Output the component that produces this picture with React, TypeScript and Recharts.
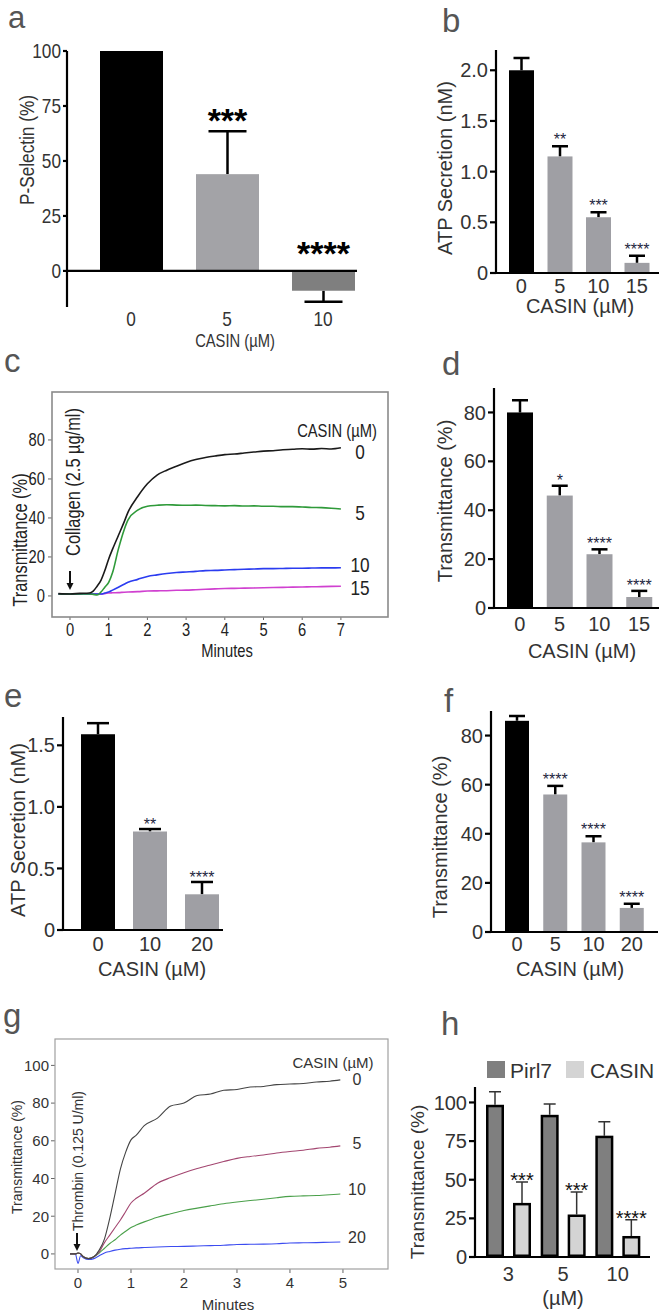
import React from 'react';
import { BarChart, Bar, LineChart, Line, XAxis, YAxis, ReferenceLine } from 'recharts';

const W = 662;
const H = 1316;
const SANS = "'Liberation Sans', Arial, sans-serif";
const NARROW_X = 0.82; // Arial Narrow look: Liberation Sans squeezed horizontally

// a: P-selectin exposure
const aDose = ['0', '5', '10'];
const aMean = [100, 44, -9];
const aErr = [0, 19.5, 5];
const aStars = ['', '***', '****'];

// b: ATP secretion, collagen
const bDose = ['0', '5', '10', '15'];
const bMean = [2.0, 1.15, 0.55, 0.1];
const bErr = [0.12, 0.1, 0.05, 0.07];
const bStars = ['', '**', '***', '****'];

// c: aggregation traces, collagen (minutes vs transmittance)
const cTime = [-0.3, 0, 0.25, 0.5, 0.6, 0.7, 0.8, 0.9, 1, 1.1, 1.25, 1.4, 1.5, 1.75, 2, 2.25, 2.5, 2.75, 3, 3.25, 3.5, 3.75, 4, 4.25, 4.5, 4.75, 5, 5.25, 5.5, 5.75, 6, 6.25, 6.5, 6.75, 7];
const c0 = [1.2, 1.0, 1.3, 1.5, 2.5, 5, 8, 13, 19, 24, 31, 38, 43, 51, 57.5, 62, 64.5, 66.5, 68.5, 70, 71, 71.8, 72.5, 72.8, 73.3, 73.8, 74.3, 74.5, 75, 75.2, 75.5, 75.3, 75.6, 75.4, 76];
const c5 = [1.0, 1.0, 1.0, 1.0, 0.8, 0.5, 2, 4.5, 7, 12, 24, 34, 39, 44, 46, 46.5, 46.8, 46.6, 46.5, 46.6, 46.4, 46.3, 46.2, 46.3, 46.1, 46.2, 46.0, 46.0, 45.8, 45.8, 45.6, 45.4, 45.3, 45.0, 44.6];
const c10 = [1.0, 1.0, 1.0, 1.0, 1.0, 1.0, 1.0, 1.5, 2, 3, 4.5, 6, 7, 8.5, 10, 10.8, 11.5, 12, 12.3, 12.6, 13, 13.1, 13.3, 13.5, 13.7, 13.8, 14, 14, 14.1, 14.2, 14.2, 14.3, 14.4, 14.4, 14.5];
const c15 = [1.0, 1.0, 1.0, 1.0, 1.0, 1.0, 1.0, 1.2, 1.5, 1.6, 1.7, 1.9, 2, 2.2, 2.5, 2.6, 2.7, 2.9, 3, 3.2, 3.4, 3.6, 3.8, 3.9, 4, 4.1, 4.2, 4.3, 4.4, 4.5, 4.6, 4.7, 4.8, 4.9, 5];
const cTicksX = [0, 1, 2, 3, 4, 5, 6, 7];
const cTicksY = [0, 20, 40, 60, 80];

// d: aggregation summary, collagen
const dDose = ['0', '5', '10', '15'];
const dMean = [80, 46, 22, 4.5];
const dErr = [5, 4, 2, 2.5];
const dStars = ['', '*', '****', '****'];

// e: ATP secretion, thrombin
const eDose = ['0', '10', '20'];
const eMean = [1.59, 0.8, 0.29];
const eErr = [0.09, 0.02, 0.1];
const eStars = ['', '**', '****'];

// f: aggregation summary, thrombin
const fDose = ['0', '5', '10', '20'];
const fMean = [86, 56, 36.5, 9.8];
const fErr = [2, 3.5, 2.5, 1.7];
const fStars = ['', '****', '****', '****'];

// g: aggregation traces, thrombin
const gTime = [-0.15, -0.05, 0, 0.05, 0.1, 0.2, 0.3, 0.4, 0.5, 0.6, 0.7, 0.8, 0.9, 1, 1.1, 1.25, 1.5, 1.75, 2, 2.25, 2.5, 2.75, 3, 3.25, 3.5, 3.75, 4, 4.25, 4.5, 4.75, 4.95];
const g0 = [0, 0, 0.5, 0, -1.5, -2.5, -1.5, 2, 8, 19, 32, 45, 54, 60.5, 63, 68, 72, 78.5, 80, 84, 84.8, 86.8, 87.2, 88.5, 88.8, 89.8, 90.1, 90.4, 91.2, 91.6, 92.3];
const g5 = [0, 0, 0.5, 0, -1.5, -2.5, -1.5, 1, 6, 10, 14, 18, 22.5, 27, 29.5, 32.2, 37.5, 40.5, 43.1, 45.3, 47.2, 49, 50.7, 51.7, 52.5, 53.5, 54.3, 55, 56, 56.6, 57.3];
const g10 = [0, 0, 0.5, 0, -1.5, -2.5, -1.5, 0.5, 3, 5.5, 7.5, 10, 12, 14, 15.3, 17, 19.5, 21.3, 23, 24.3, 25.5, 26.6, 27.5, 28.3, 29, 29.8, 30.5, 30.8, 31, 31.4, 31.8];
const g20 = [0, 0, -5, -1, -2, -3, -2.5, -1, 0.5, 1.3, 2, 2.5, 2.8, 3, 3.2, 3.4, 3.7, 3.9, 4, 4.2, 4.4, 4.6, 5, 5.1, 5.2, 5.4, 5.8, 5.9, 6, 6.2, 6.3];
const gTicksX = [0, 1, 2, 3, 4, 5];
const gTicksY = [0, 20, 40, 60, 80, 100];

// h: Pirl7 vs CASIN
const hDose = ['3', '5', '10'];
const hPirl7 = [98.5, 92, 78.5];
const hPirl7Err = [8.5, 7, 9];
const hCasin = [35, 27.5, 13.6];
const hCasinErr = [13.5, 14.5, 10.5];
const hStars = ['***', '***', '****'];

type Plot = { l: number; t: number; r: number; b: number };
type BarStyle = {
  fills: string[]; errColor: string; errWidth: number; cap: number;
  starSize: number; starGap: number; negGap?: number; starColor: string; starBold?: boolean;
  stroke?: string; strokeWidth?: number;
};

// bar + one-sided error bar + significance stars, all from the bar's own scale
function barShape(meanKey: string, errKey: string, starKey: string, st: BarStyle) {
  return (p: any) => {
    const { x, y, width, height, payload } = p;
    const v = payload[meanKey];
    const e = payload[errKey] || 0;
    const top = Math.min(y, y + height);
    const bot = Math.max(y, y + height);
    const ppu = v !== 0 ? Math.abs(height) / Math.abs(v) : 0;
    const cx = x + width / 2;
    const fill = st.fills[Math.min(payload.idx, st.fills.length - 1)];
    const inset = st.strokeWidth ? st.strokeWidth / 2 : 0;
    let err: [number, number] | null = null;
    let refY = top;
    if (e > 0) {
      if (v >= 0) {
        const ey = top - e * ppu;
        err = [top, ey];
        refY = ey;
      } else {
        err = [bot, bot + e * ppu];
      }
    }
    const gap = v < 0 && st.negGap ? st.negGap : st.starGap;
    const star = payload[starKey];
    return (
      <g>
        {err && <line x1={cx} x2={cx} y1={err[0]} y2={err[1]} stroke={st.errColor} strokeWidth={st.errWidth} />}
        {err && <line x1={cx - st.cap} x2={cx + st.cap} y1={err[1]} y2={err[1]} stroke={st.errColor} strokeWidth={st.errWidth} />}
        <rect x={x + inset} y={top + inset} width={width - 2 * inset} height={Math.max(0, bot - top - 2 * inset)}
          fill={fill} stroke={st.stroke} strokeWidth={st.strokeWidth} />
        {star && (
          <text x={cx} y={refY - gap + 0.568 * st.starSize} textAnchor="middle" fontSize={st.starSize}
            fontFamily={SANS} fontWeight={st.starBold ? 'bold' : 'normal'} fill={st.starColor}>{star}</text>
        )}
      </g>
    );
  };
}

// squeezed tick labels for the panels set in a narrow face
function narrowTick(size: number, fill: string, side: 'x' | 'y') {
  return (p: any) => (
    <text transform={`translate(${p.x} ${p.y}) scale(${NARROW_X} 1)`} textAnchor={side === 'x' ? 'middle' : 'end'}
      dy={side === 'x' ? '0.71em' : '0.355em'} fontSize={size} fontFamily={SANS} fill={fill}>
      {p.payload.value}
    </text>
  );
}

type SimpleProps = {
  cats: string[]; mean: number[]; err: number[]; stars: string[];
  plot: Plot; domain: [number, number]; ticks: number[]; fmt?: (v: number) => string;
  pad: { left: number; right: number }; barSize: number; style: BarStyle;
  narrow?: boolean; fontSize: number; yTick: number; yMargin: number; xMargin: number;
  xAxisLine: boolean; zeroLine?: boolean; lineW: number;
};

function SimpleBars(props: SimpleProps) {
  const data = props.cats.map((c, i) => ({ dose: c, idx: i, mean: props.mean[i], err: props.err[i], stars: props.stars[i] }));
  const { l, t, r, b } = props.plot;
  const tick = { fontSize: props.fontSize, fill: '#333', fontFamily: SANS };
  const line = { stroke: '#000', strokeWidth: props.lineW };
  return (
    <div style={{ position: 'absolute', left: 0, top: 0 }}>
      <BarChart width={W} height={H} data={data} margin={{ top: t, right: W - r, bottom: 0, left: 0 }}>
        <XAxis dataKey="dose" height={H - b} padding={props.pad}
          tick={props.narrow ? narrowTick(props.fontSize, '#333', 'x') : tick} tickLine={false} tickSize={0}
          tickMargin={props.xMargin} axisLine={props.xAxisLine ? line : false} interval={0} />
        <YAxis width={l} domain={props.domain} ticks={props.ticks} tickFormatter={props.fmt} allowDataOverflow
          tick={props.narrow ? narrowTick(props.fontSize, '#333', 'y') : tick} tickSize={props.yTick}
          tickMargin={props.yMargin} tickLine={line} axisLine={line} interval={0} />
        <Bar dataKey="mean" barSize={props.barSize} isAnimationActive={false}
          shape={barShape('mean', 'err', 'stars', props.style)} />
        {props.zeroLine && <ReferenceLine y={0} stroke="#000" strokeWidth={props.lineW} />}
      </BarChart>
    </div>
  );
}

const dec1 = (v: number) => (v === 0 ? '0' : v.toFixed(1));

const grayStyle = (cap: number, gap: number): BarStyle => ({
  fills: ['#000000', '#9f9fa4'], errColor: '#000', errWidth: 2.5, cap,
  starSize: 16, starGap: gap, starColor: '#1e2640',
});

function Txt(p: { x: number; y: number; s: string; size: number; narrow?: boolean; rot?: boolean; anchor?: string; fill?: string }) {
  const tf = `translate(${p.x} ${p.y})${p.rot ? ' rotate(-90)' : ''}${p.narrow ? ` scale(${NARROW_X} 1)` : ''}`;
  return (
    <text x={0} y={0} transform={tf} fontSize={p.size} fontFamily={SANS} fill={p.fill || '#333'}
      textAnchor={(p.anchor || 'middle') as any} dominantBaseline="central">{p.s}</text>
  );
}

function Letter(p: { x: number; y: number; s: string; size?: number }) {
  return <text x={p.x} y={p.y} fontSize={p.size || 33} fontFamily={SANS} fill="#555">{p.s}</text>;
}

function Arrow(p: { x: number; y1: number; y2: number }) {
  return (
    <g>
      <line x1={p.x} x2={p.x} y1={p.y1} y2={p.y2 - 5} stroke="#111" strokeWidth={2} />
      <polygon points={`${p.x - 3.5},${p.y2 - 7} ${p.x + 3.5},${p.y2 - 7} ${p.x},${p.y2}`} fill="#111" />
    </g>
  );
}

function PanelC() {
  const data = cTime.map((t, i) => ({ t, s0: c0[i], s5: c5[i], s10: c10[i], s15: c15[i] }));
  return (
    <div style={{ position: 'absolute', left: 0, top: 0 }}>
      <LineChart width={W} height={H} data={data} margin={{ top: 392, right: W - 388, bottom: 0, left: 0 }}>
        <XAxis type="number" dataKey="t" domain={[-0.465, 8.217]} allowDataOverflow ticks={cTicksX} interval={0}
          height={H - 617} tick={narrowTick(18, '#222', 'x')} tickSize={3} tickMargin={3} tickLine={{ stroke: '#666' }} axisLine={false} />
        <YAxis width={52} domain={[-10.8, 104.6]} allowDataOverflow ticks={cTicksY} interval={0}
          tick={narrowTick(18, '#222', 'y')} tickSize={4} tickMargin={3} tickLine={{ stroke: '#666' }} axisLine={false} />
        <Line type="monotone" dataKey="s15" stroke="#d040d0" strokeWidth={1.6} dot={false} isAnimationActive={false} />
        <Line type="monotone" dataKey="s10" stroke="#2b3cf0" strokeWidth={1.6} dot={false} isAnimationActive={false} />
        <Line type="monotone" dataKey="s5" stroke="#2f9a3a" strokeWidth={1.6} dot={false} isAnimationActive={false} />
        <Line type="monotone" dataKey="s0" stroke="#1a1a1a" strokeWidth={1.6} dot={false} isAnimationActive={false} />
      </LineChart>
    </div>
  );
}

function PanelG() {
  const data = gTime.map((t, i) => ({ t, s0: g0[i], s5: g5[i], s10: g10[i], s20: g20[i] }));
  const tick = { fontSize: 15, fill: '#333', fontFamily: SANS };
  return (
    <div style={{ position: 'absolute', left: 0, top: 0 }}>
      <LineChart width={W} height={H} data={data} margin={{ top: 1039, right: W - 388, bottom: 0, left: 0 }}>
        <XAxis type="number" dataKey="t" domain={[-0.434, 5.85]} allowDataOverflow ticks={gTicksX} interval={0}
          height={H - 1269} tick={tick} tickSize={4} tickMargin={4} tickLine={{ stroke: '#666' }} axisLine={false} />
        <YAxis width={55} domain={[-8, 114]} allowDataOverflow ticks={gTicksY} interval={0}
          tick={tick} tickSize={4} tickMargin={2} tickLine={{ stroke: '#666' }} axisLine={false} />
        <Line type="monotone" dataKey="s20" stroke="#3c4cf0" strokeWidth={1.1} dot={false} isAnimationActive={false} />
        <Line type="monotone" dataKey="s10" stroke="#4aa04a" strokeWidth={1.1} dot={false} isAnimationActive={false} />
        <Line type="monotone" dataKey="s5" stroke="#a34670" strokeWidth={1.1} dot={false} isAnimationActive={false} />
        <Line type="monotone" dataKey="s0" stroke="#444" strokeWidth={1.1} dot={false} isAnimationActive={false} />
      </LineChart>
    </div>
  );
}

function PanelH() {
  const data = hDose.map((c, i) => ({
    dose: c, idx: i, pirl7: hPirl7[i], pirl7Err: hPirl7Err[i], casin: hCasin[i], casinErr: hCasinErr[i], stars: hStars[i],
  }));
  const tick = { fontSize: 20, fill: '#333', fontFamily: SANS };
  const line = { stroke: '#000', strokeWidth: 2.2 };
  const base = { errColor: '#333', errWidth: 1.5, cap: 6, starSize: 20, starGap: 6, starColor: '#111', stroke: '#000', strokeWidth: 2.5 };
  return (
    <div style={{ position: 'absolute', left: 0, top: 0 }}>
      <BarChart width={W} height={H} data={data} barGap={9} margin={{ top: 1087, right: W - 650, bottom: 0, left: 0 }}>
        <XAxis dataKey="dose" height={H - 1257} padding={{ left: 6, right: 5 }} tick={tick} tickLine={false}
          tickSize={0} tickMargin={10} axisLine={line} interval={0} />
        <YAxis width={475} domain={[0, 110]} ticks={[0, 25, 50, 75, 100]} allowDataOverflow interval={0}
          tick={tick} tickSize={6} tickMargin={2} tickLine={line} axisLine={line} />
        <Bar dataKey="pirl7" barSize={18} isAnimationActive={false}
          shape={barShape('pirl7', 'pirl7Err', 'none', { ...base, fills: ['#7f7f7f'] })} />
        <Bar dataKey="casin" barSize={18} isAnimationActive={false}
          shape={barShape('casin', 'casinErr', 'stars', { ...base, fills: ['#d4d4d4'] })} />
      </BarChart>
    </div>
  );
}

export default function App() {
  return (
    <div style={{ position: 'absolute', left: 0, top: 0, width: W, height: H, background: '#fff', overflow: 'hidden' }}>
      <SimpleBars cats={aDose} mean={aMean} err={aErr} stars={aStars}
        plot={{ l: 67, t: 51, r: 357, b: 307 }} domain={[-16.4, 100]} ticks={[0, 25, 50, 75, 100]}
        pad={{ left: 16, right: -14 }} barSize={63} narrow fontSize={21} yTick={4} yMargin={2} xMargin={4}
        xAxisLine={false} zeroLine lineW={2.2}
        style={{ fills: ['#000000', '#a3a3a7', '#7f7f7f'], errColor: '#000', errWidth: 2.5, cap: 19, starSize: 34, starGap: 19, negGap: 25, starColor: '#000', starBold: true }} />
      <SimpleBars cats={bDose} mean={bMean} err={bErr} stars={bStars}
        plot={{ l: 496, t: 50, r: 659, b: 273 }} domain={[0, 2.2]} ticks={[0, 0.5, 1, 1.5, 2]} fmt={dec1}
        pad={{ left: 6, right: 3 }} barSize={25} fontSize={20} yTick={6} yMargin={2} xMargin={6}
        xAxisLine lineW={2.2} style={grayStyle(8, 10)} />
      <PanelC />
      <SimpleBars cats={dDose} mean={dMean} err={dErr} stars={dStars}
        plot={{ l: 494, t: 388, r: 659, b: 608 }} domain={[0, 90]} ticks={[0, 20, 40, 60, 80]}
        pad={{ left: 6, right: 0 }} barSize={26} fontSize={20} yTick={6} yMargin={2} xMargin={9}
        xAxisLine lineW={2.2} style={grayStyle(8, 9)} />
      <SimpleBars cats={eDose} mean={eMean} err={eErr} stars={eStars}
        plot={{ l: 63, t: 717, r: 223, b: 930 }} domain={[0, 1.73]} ticks={[0, 0.5, 1, 1.5]} fmt={dec1}
        pad={{ left: 9, right: -5 }} barSize={34} fontSize={20} yTick={6} yMargin={2} xMargin={7}
        xAxisLine lineW={2.2} style={grayStyle(11, 8)} />
      <SimpleBars cats={fDose} mean={fMean} err={fErr} stars={fStars}
        plot={{ l: 491, t: 711, r: 658, b: 932 }} domain={[0, 90]} ticks={[0, 20, 40, 60, 80]}
        pad={{ left: 7, right: 7 }} barSize={24} fontSize={20} yTick={6} yMargin={2} xMargin={5}
        xAxisLine lineW={2.2} style={grayStyle(8, 10)} />
      <PanelG />
      <PanelH />
      <svg width={W} height={H} style={{ position: 'absolute', left: 0, top: 0, pointerEvents: 'none' }}>
        <Letter x={8} y={28} s="a" size={31} />
        <Letter x={442} y={32} s="b" />
        <Letter x={4} y={372} s="c" />
        <Letter x={442} y={375} s="d" />
        <Letter x={4} y={707} s="e" />
        <Letter x={444} y={712} s="f" />
        <Letter x={3} y={1027} s="g" />
        <Letter x={441} y={1035} s="h" />

        <Txt x={27} y={150} s="P-Selectin (%)" size={21} narrow rot />
        <Txt x={235} y={340} s="CASIN (µM)" size={18} narrow />

        <Txt x={445} y={168} s="ATP Secretion (nM)" size={20} rot />
        <Txt x={580} y={306} s="CASIN (µM)" size={20} />

        <rect x={52} y={392} width={336} height={225} fill="none" stroke="#8a8a8a" strokeWidth={1.6} />
        <Txt x={20} y={540} s="Transmittance (%)" size={20} narrow rot fill="#222" />
        <Txt x={73} y={482} s="Collagen (2.5 µg/ml)" size={20} narrow rot fill="#222" />
        <Arrow x={70} y1={571} y2={590} />
        <Txt x={227} y={650} s="Minutes" size={18} narrow fill="#222" />
        <Txt x={337} y={430} s="CASIN (µM)" size={18} narrow fill="#222" />
        <Txt x={360} y={452} s="0" size={21} narrow fill="#222" />
        <Txt x={360} y={513} s="5" size={21} narrow fill="#222" />
        <Txt x={360} y={565} s="10" size={21} narrow fill="#222" />
        <Txt x={360} y={588} s="15" size={21} narrow fill="#222" />

        <Txt x={445} y={501} s="Transmittance (%)" size={20} rot />
        <Txt x={582} y={651} s="CASIN (µM)" size={20} />

        <Txt x={18} y={830} s="ATP Secretion (nM)" size={20} rot />
        <Txt x={152} y={969} s="CASIN (µM)" size={20} />

        <Txt x={440} y={837} s="Transmittance (%)" size={20} rot />
        <Txt x={570} y={969} s="CASIN (µM)" size={20} />

        <rect x={55} y={1039} width={333} height={230} fill="none" stroke="#a0a0a0" strokeWidth={1.2} />
        <Txt x={17} y={1157} s="Transmittance (%)" size={14} rot />
        <Txt x={78} y={1161} s="Thrombin (0.125 U/ml)" size={14} rot />
        <Arrow x={77} y1={1233} y2={1251} />
        <Txt x={228} y={1304} s="Minutes" size={15} />
        <Txt x={333} y={1062} s="CASIN (µM)" size={15} />
        <Txt x={357} y={1079} s="0" size={16} />
        <Txt x={357} y={1143} s="5" size={16} />
        <Txt x={357} y={1189} s="10" size={16} />
        <Txt x={357} y={1237} s="20" size={16} />

        <Txt x={417} y={1182} s="Transmittance (%)" size={19} rot />
        <Txt x={563} y={1298} s="(µM)" size={20} />
        <rect x={487} y={1061} width={18} height={17} fill="#7f7f7f" />
        <Txt x={510} y={1070} s="Pirl7" size={21} anchor="start" />
        <rect x={566} y={1061} width={18} height={17} fill="#d4d4d4" />
        <Txt x={590} y={1070} s="CASIN" size={21} anchor="start" />
      </svg>
    </div>
  );
}
